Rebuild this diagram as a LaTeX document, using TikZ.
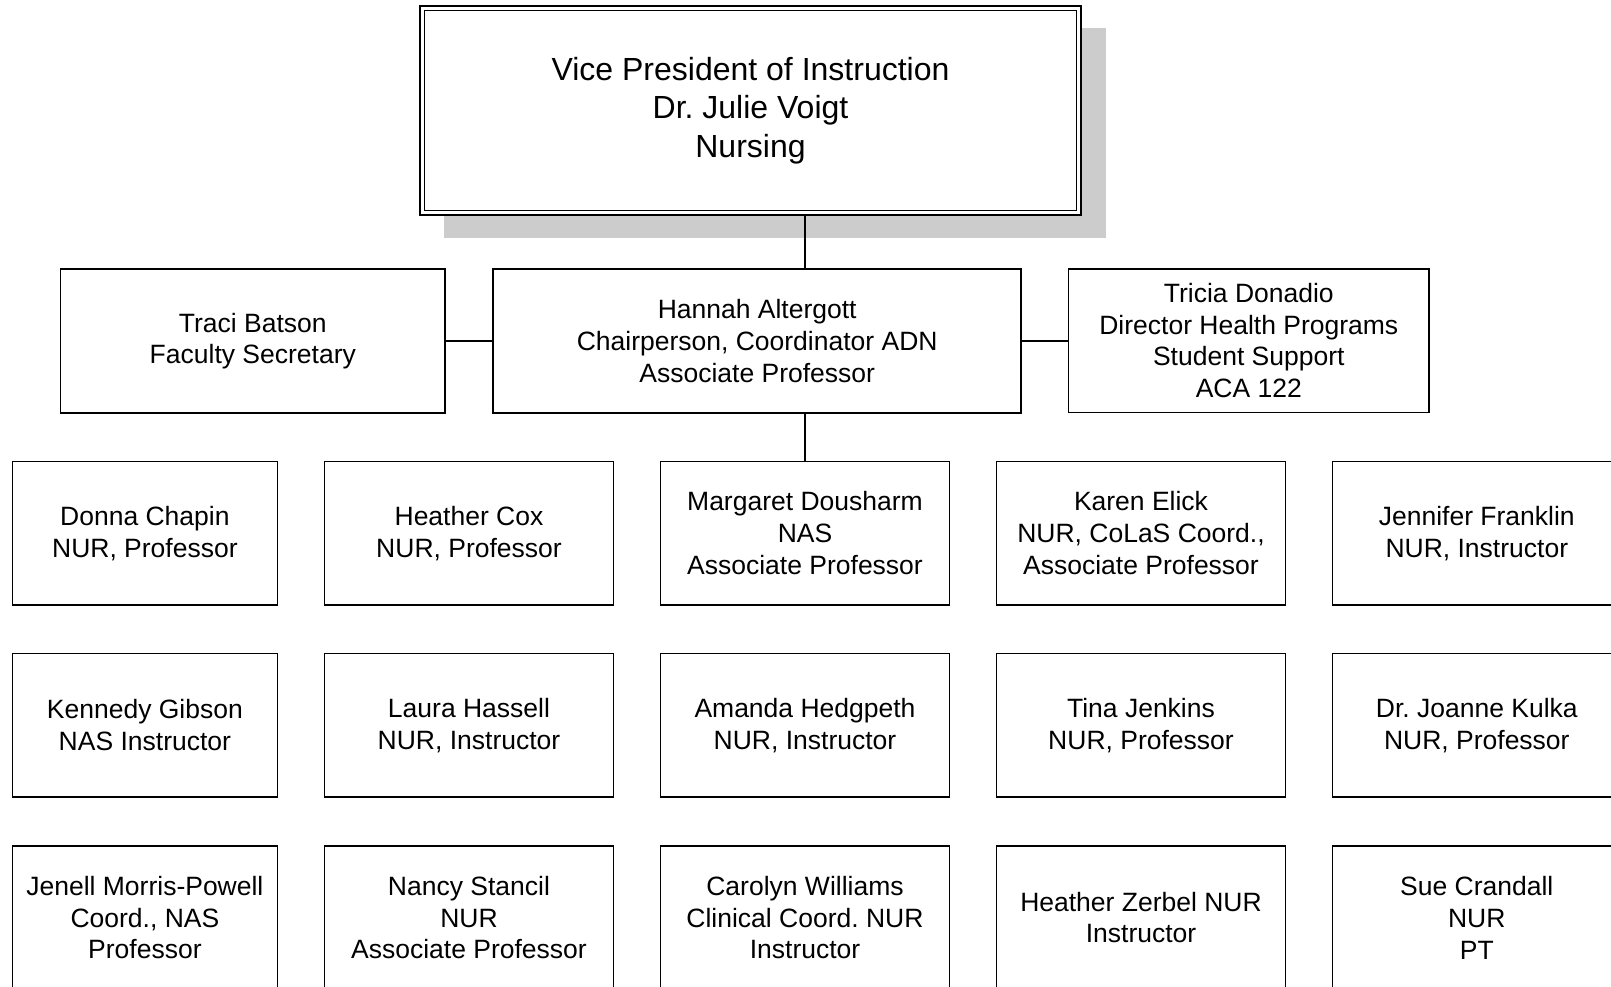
\documentclass[tikz,border=0pt]{standalone}
\usepackage{fontspec}
\setmainfont{Liberation Sans}
\frenchspacing
\newcommand\bodyfont{\fontsize{26.5}{31.8}\selectfont}
\newcommand\topfont{\fontsize{32}{38.5}\selectfont}
\tikzset{
  box/.style={draw, line width=1.6pt, align=center, font=\bodyfont, inner sep=0pt, minimum height=143.8pt},
  wa/.style={box, minimum width=265.1pt},
  wb/.style={box, minimum width=288.7pt},
  conn/.style={line width=1.6pt},
}
\begin{document}
\begin{tikzpicture}[x=1pt,y=-1pt]
\useasboundingbox (0,0) rectangle (1611,986);
% top box with shadow
\fill[black!20] (443.8,27.7) rectangle (1105.5,238.4);
\node[draw, line width=2.2pt, fill=white, minimum width=660.6pt, minimum height=208.6pt, inner sep=0pt, align=center, font=\topfont] (top) at (750.5,110.4) {Vice President of Instruction\\Dr. Julie Voigt\\Nursing};
\draw[line width=1.4pt] ([shift={(5.5pt,-5.5pt)}]top.north west) rectangle ([shift={(-5.5pt,5.5pt)}]top.south east);
% second row
\node[box, minimum width=384.3pt] (traci) at (252.8,341.1) {Traci Batson\\Faculty Secretary};
\node[box, minimum width=528pt] (hannah) at (757.2,341.1) {Hannah Altergott\\Chairperson, Coordinator ADN\\Associate Professor};
\node[box, minimum width=360.6pt] (tricia) at (1248.8,340.6) {Tricia Donadio\\Director Health Programs\\Student Support\\ACA 122};
% row 3
\node[wa] (donna) at (144.9,533.2) {Donna Chapin\\NUR, Professor};
\node[wb] (cox) at (469,533.2) {Heather Cox\\NUR, Professor};
\node[wb] (margaret) at (805,533.2) {Margaret Dousharm\\NAS\\Associate Professor};
\node[wb] (elick) at (1141,533.2) {Karen Elick\\NUR, CoLaS Coord.,\\Associate Professor};
\node[wb] (franklin) at (1476.8,533.2) {Jennifer Franklin\\NUR, Instructor};
% row 4
\node[wa] (gibson) at (144.9,725.3) {Kennedy Gibson\\NAS Instructor};
\node[wb] (hassell) at (469,725.3) {Laura Hassell\\NUR, Instructor};
\node[wb] (hedgpeth) at (805,725.3) {Amanda Hedgpeth\\NUR, Instructor};
\node[wb] (jenkins) at (1141,725.3) {Tina Jenkins\\NUR, Professor};
\node[wb] (kulka) at (1476.8,725.3) {Dr. Joanne Kulka\\NUR, Professor};
% row 5
\node[wa] (morris) at (144.9,917.6) {Jenell Morris-Powell\\Coord., NAS\\Professor};
\node[wb] (stancil) at (469,917.6) {Nancy Stancil\\NUR\\Associate Professor};
\node[wb] (williams) at (805,917.6) {Carolyn Williams\\Clinical Coord. NUR\\Instructor};
\node[wb] (zerbel) at (1141,917.6) {Heather Zerbel NUR\\Instructor};
\node[wb] (crandall) at (1476.8,917.6) {Sue Crandall\\NUR\\PT};
% connectors
\draw[conn] (top.south -| margaret.north) -- (hannah.north -| margaret.north);
\draw[conn] (hannah.south -| margaret.north) -- (margaret.north);
\draw[conn] (traci.east) -- (hannah.west);
\draw[conn] (hannah.east) -- (tricia.west |- hannah.east);
\end{tikzpicture}
\end{document}
